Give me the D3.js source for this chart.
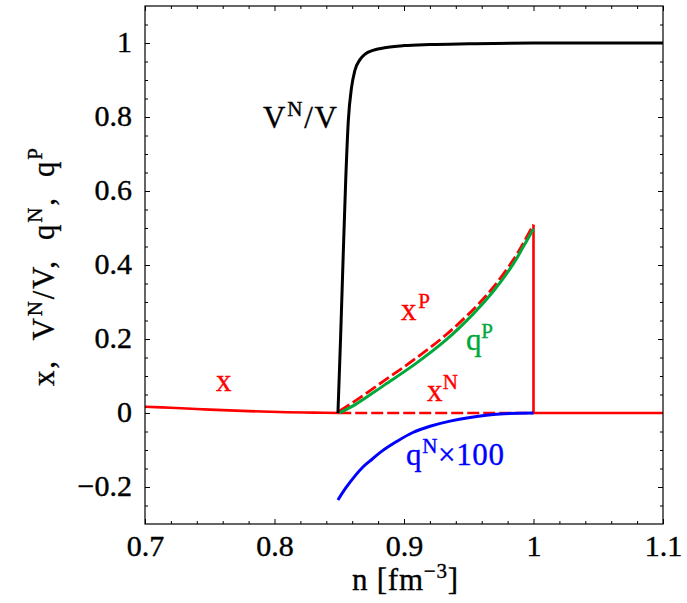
<!DOCTYPE html>
<html>
<head>
<meta charset="utf-8">
<script src="https://cdn.jsdelivr.net/npm/d3@7"></script>
<style>
  html, body { margin: 0; padding: 0; background: #fff; }
  svg { display: block; }
</style>
</head>
<body>
<svg id="chart" width="687" height="603"></svg>
<script>
// ---- data ----
const xTicks = [0.7, 0.8, 0.9, 1.0, 1.1];
const xTickLabels = ["0.7", "0.8", "0.9", "1", "1.1"];
const yTicks = [-0.2, 0, 0.2, 0.4, 0.6, 0.8, 1.0];
const yTickLabels = ["\u22120.2", "0", "0.2", "0.4", "0.6", "0.8", "1"];
const xMinor = [0.72,0.74,0.76,0.78,0.82,0.84,0.86,0.88,0.92,0.94,0.96,0.98,1.02,1.04,1.06,1.08];
const yMinor = [-0.25,-0.15,-0.1,-0.05,0.05,0.1,0.15,0.25,0.3,0.35,0.45,0.5,0.55,0.65,0.7,0.75,0.85,0.9,0.95,1.05];

// V^N / V (black)
const vnN = [0.849, 0.851, 0.853, 0.855, 0.857, 0.8595, 0.862, 0.866, 0.870, 0.876, 0.885, 0.900, 0.920, 0.950, 1.000, 1.100];
const vnV = [0.0, 0.20, 0.42, 0.63, 0.79, 0.88, 0.925, 0.955, 0.970, 0.980, 0.987, 0.993, 0.996, 0.998, 1.0, 1.0];

// x (red solid, before the mixed phase)
const xN = [0.70, 0.72, 0.75, 0.78, 0.81, 0.83, 0.85];
const xV = [0.017, 0.014, 0.009, 0.005, 0.002, 0.001, 0.0];

// x (red solid, after the mixed phase incl. the jump at n=1)
const xAfterN = [1.0, 1.0, 1.1];
const xAfterV = [0.509, 0.0, 0.0];

// x^N (red dashed)
const xnN = [0.85, 1.0];
const xnV = [0.0, 0.0];

// x^P (red dashed)
const xpN = [0.85, 0.862, 0.885, 0.9085, 0.932, 0.9535, 0.969, 0.9844, 0.9921, 1.0];
const xpV = [0.005, 0.032, 0.088, 0.146, 0.210, 0.280, 0.340, 0.414, 0.459, 0.509];

// q^P (green)
const qpN = [0.85, 0.862, 0.885, 0.9085, 0.932, 0.9535, 0.969, 0.9844, 0.9921, 1.0];
const qpV = [0.0, 0.022, 0.076, 0.132, 0.196, 0.268, 0.329, 0.403, 0.449, 0.498];

// q^N x 100 (blue)
const qnN = [0.849, 0.8552, 0.8622, 0.8683, 0.8753, 0.8822, 0.8946, 0.9069, 0.9201, 0.9355, 0.951, 0.9741, 1.0];
const qnV = [-0.235, -0.202, -0.170, -0.146, -0.125, -0.105, -0.0765, -0.0527, -0.0359, -0.0219, -0.0122, -0.0027, 0.0];

// ---- layout ----
const FF = "'Liberation Serif', 'Times New Roman', Tinos, serif";
const svg = d3.select("#chart");
const L = 145, R = 663, T = 6, B = 524;
const x = d3.scaleLinear().domain([0.7, 1.1]).range([L, R]);
const y = d3.scaleLinear().domain([-0.3, 1.1]).range([B, T]);

const RED = "#ff0000", GREEN = "#00a83c", BLUE = "#0000ff", BLACK = "#000";

svg.append("defs").append("clipPath").attr("id", "clip")
  .append("rect").attr("x", L).attr("y", T).attr("width", R - L).attr("height", B - T);

function styleAxis(g) {
  g.select(".domain").remove();
  g.selectAll(".tick line").attr("stroke", "#000").attr("stroke-width", 1);
}
const fs = 30;
function styleTickText(g) {
  g.selectAll("text").attr("font-size", fs).attr("fill", "#000")
    .attr("stroke", "#000").attr("stroke-width", 0.4).style("font-family", FF);
}
svg.append("g").attr("transform", `translate(0,${B})`)
  .call(d3.axisBottom(x).tickValues(xTicks).tickFormat((d, i) => xTickLabels[i]).tickSize(-5).tickPadding(11))
  .call(styleAxis).call(styleTickText);
svg.append("g").attr("transform", `translate(0,${B})`)
  .call(d3.axisBottom(x).tickValues(xMinor).tickFormat("").tickSize(-3)).call(styleAxis);
svg.append("g").attr("transform", `translate(0,${T})`)
  .call(d3.axisTop(x).tickValues(xTicks).tickFormat("").tickSize(-5)).call(styleAxis);
svg.append("g").attr("transform", `translate(0,${T})`)
  .call(d3.axisTop(x).tickValues(xMinor).tickFormat("").tickSize(-3)).call(styleAxis);
svg.append("g").attr("transform", `translate(${L},0)`)
  .call(d3.axisLeft(y).tickValues(yTicks).tickFormat((d, i) => yTickLabels[i]).tickSize(-5).tickPadding(13))
  .call(styleAxis).call(styleTickText)
  .call(g => g.selectAll("text").attr("dy", "0.27em"));
svg.append("g").attr("transform", `translate(${L},0)`)
  .call(d3.axisLeft(y).tickValues(yMinor).tickFormat("").tickSize(-3)).call(styleAxis);
svg.append("g").attr("transform", `translate(${R},0)`)
  .call(d3.axisRight(y).tickValues(yTicks).tickFormat("").tickSize(-5)).call(styleAxis);
svg.append("g").attr("transform", `translate(${R},0)`)
  .call(d3.axisRight(y).tickValues(yMinor).tickFormat("").tickSize(-3)).call(styleAxis);

// curves
const plot = svg.append("g").attr("clip-path", "url(#clip)");
const zip = (a, b) => a.map((d, i) => [d, b[i]]);
const mono = d3.line().x(d => x(d[0])).y(d => y(d[1])).curve(d3.curveMonotoneX);
const smooth = d3.line().x(d => x(d[0])).y(d => y(d[1])).curve(d3.curveCatmullRom.alpha(0.5));
const straight = d3.line().x(d => x(d[0])).y(d => y(d[1]));

function path(data, gen, color, w, dash) {
  const p = plot.append("path").attr("d", gen(data)).attr("fill", "none")
    .attr("stroke", color).attr("stroke-width", w).attr("stroke-linejoin", "round");
  if (dash) p.attr("stroke-dasharray", dash);
  return p;
}
path(zip(xN, xV), smooth, RED, 2.6);
path(zip(xAfterN, xAfterV), straight, RED, 2.6);
path(zip(xnN, xnV), straight, RED, 2.6, "12,4");
path(zip(xpN, xpV), smooth, RED, 2.8, "12,4");
path(zip(qpN, qpV), smooth, GREEN, 3);
path(zip(qnN, qnV), smooth, BLUE, 3);
path(zip(vnN, vnV), mono, BLACK, 3);

svg.append("rect").attr("x", L).attr("y", T).attr("width", R - L).attr("height", B - T)
  .attr("fill", "none").attr("stroke", "#000").attr("stroke-width", 1.2);

// text with superscripts; width (optional) = extent
const lfs = 31, sfs = 21, rise = 12;
function label(px, py, parts, color, opts) {
  opts = opts || {};
  const t = svg.append("text").attr("fill", color).attr("font-size", lfs)
    .attr("stroke", color).attr("stroke-width", 0.35)
    .attr("text-anchor", opts.anchor || "start").style("font-family", FF).style("white-space", "pre");
  if (opts.rotate) t.attr("transform", `translate(${px},${py}) rotate(-90)`);
  else t.attr("x", px).attr("y", py);
  let up = 0;
  parts.forEach(([s, sup]) => {
    const ts = t.append("tspan").text(s);
    if (sup) { ts.attr("font-size", sfs).attr("dy", -rise - up); up = -rise; }
    else { ts.attr("dy", -up); up = 0; }
  });
  if (opts.width) t.attr("textLength", opts.width).attr("lengthAdjust", "spacing");
  return t;
}

label(263, 128, [["V"], ["N", true], ["/V"]], BLACK, { width: 74 });
label(401, 320, [["x"], ["P", true]], RED, { width: 29 });
label(466, 350, [["q"], ["P", true]], GREEN, { width: 27 });
label(427, 401, [["x"], ["N", true]], RED, { width: 31 });
label(216, 391, [["x"]], RED);
label(406, 465, [["q"], ["N", true], ["\u00d7100"]], BLUE, { width: 98 });

label(405, 590, [["n [fm"], ["\u22123", true], ["]"]], "#000", { anchor: "middle", width: 106 });
label(54, 267, [["x,  V"], ["N", true], ["/V,  q"], ["N", true], [",  q"], ["P", true]], "#000",
  { anchor: "middle", rotate: true, width: 238 });
</script>
</body>
</html>
